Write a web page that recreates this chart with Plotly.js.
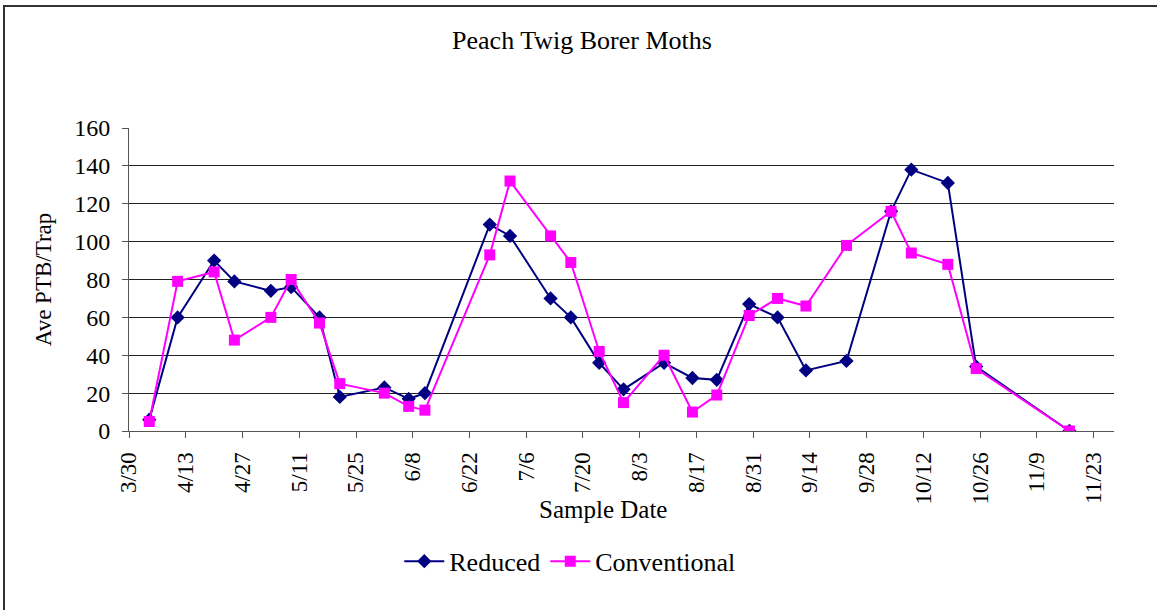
<!DOCTYPE html>
<html>
<head>
<meta charset="utf-8">
<script src="https://cdn.plot.ly/plotly-3.0.1.min.js"></script>
<style>
  body { margin: 0; background: #fff; }
  #wrap { position: relative; width: 1157px; height: 610px; }
  #chart { width: 1157px; height: 610px; }
  #frame { position: absolute; left: 3px; top: 5px; right: -10px; bottom: -10px;
           border-left: 2px solid #333; border-top: 2px solid #333; pointer-events: none; }
</style>
</head>
<body>
<div id="wrap"><div id="chart"></div><div id="frame"></div></div>
<script>
// Sample dates (year arbitrary, shown as m/d)
const sampleDates = [
  '2007-04-04','2007-04-11','2007-04-20','2007-04-25','2007-05-04','2007-05-09',
  '2007-05-16','2007-05-21','2007-06-01','2007-06-07','2007-06-11','2007-06-27',
  '2007-07-02','2007-07-12','2007-07-17','2007-07-24','2007-07-30','2007-08-09',
  '2007-08-16','2007-08-22','2007-08-30','2007-09-06','2007-09-13','2007-09-23',
  '2007-10-04','2007-10-09','2007-10-18','2007-10-25','2007-11-17'
];
const reduced = [6, 60, 90, 79, 74, 76, 60, 18, 23, 17, 20, 109, 103, 70, 60, 36, 22, 36, 28, 27, 67, 60, 32, 37, 116, 138, 131, 34, 0];
const conventional = [5, 79, 84, 48, 60, 80, 57, 25, 20, 13, 11, 93, 132, 103, 89, 42, 15, 40, 10, 19, 61, 70, 66, 98, 116, 94, 88, 33, 0];
const seriesNames = ['Reduced', 'Conventional'];
const chartTitle = 'Peach Twig Borer Moths';
const xTitle = 'Sample Date';
const yTitle = 'Ave PTB/Trap';

const serif = 'Liberation Serif, Times New Roman, serif';

const traces = [
  {
    x: sampleDates, y: reduced, name: seriesNames[0], type: 'scatter', mode: 'lines+markers',
    line: {color: '#000080', width: 2},
    marker: {symbol: 'diamond', size: 11, color: '#000080'}
  },
  {
    x: sampleDates, y: conventional, name: seriesNames[1], type: 'scatter', mode: 'lines+markers',
    line: {color: '#FF00FF', width: 2},
    marker: {symbol: 'square', size: 11, color: '#FF00FF'}
  }
];

const layout = {
  width: 1157, height: 610,
  margin: {l: 129, r: 43, t: 128, b: 178.5},
  paper_bgcolor: '#fff', plot_bgcolor: '#fff',
  font: {family: serif, size: 23, color: '#000'},
  title: {text: chartTitle, font: {family: serif, size: 26, color: '#000'},
          xref: 'container', yref: 'container', x: 0.503, y: 0.934, xanchor: 'center', yanchor: 'middle'},
  xaxis: {
    type: 'date',
    range: ['2007-03-30', '2007-11-28'],
    tick0: '2007-03-30', dtick: 14 * 86400000,
    tickformat: '%-m/%-d', tickangle: -90,
    ticks: 'outside', ticklen: 6, tickcolor: '#555', tickwidth: 1,
    ticklabelstandoff: 5,
    showline: true, linecolor: '#555', linewidth: 1,
    showgrid: false, zeroline: false,
    tickfont: {family: serif, size: 23, color: '#000'}
  },
  yaxis: {
    range: [0, 160], dtick: 20,
    ticks: 'outside', ticklen: 6, tickcolor: '#555', tickwidth: 1,
    ticklabelstandoff: 7,
    showline: true, linecolor: '#555', linewidth: 1,
    showgrid: true, gridcolor: '#222', gridwidth: 1,
    zeroline: false,
    tickfont: {family: serif, size: 24, color: '#000'},
    title: {text: yTitle, font: {family: serif, size: 23, color: '#000'}, standoff: 16}
  },
  annotations: [
    {text: xTitle, xref: 'paper', yref: 'paper', x: 0.481, y: -0.259, xanchor: 'center', yanchor: 'middle',
     showarrow: false, font: {family: serif, size: 25, color: '#000'}}
  ],
  legend: {orientation: 'h', x: 0.448, xanchor: 'center', y: -0.43, yanchor: 'middle',
           itemwidth: 40,
           font: {family: serif, size: 26, color: '#000'}, bgcolor: 'rgba(0,0,0,0)'},
  showlegend: true
};

Plotly.newPlot('chart', traces, layout, {staticPlot: true});
</script>
</body>
</html>
